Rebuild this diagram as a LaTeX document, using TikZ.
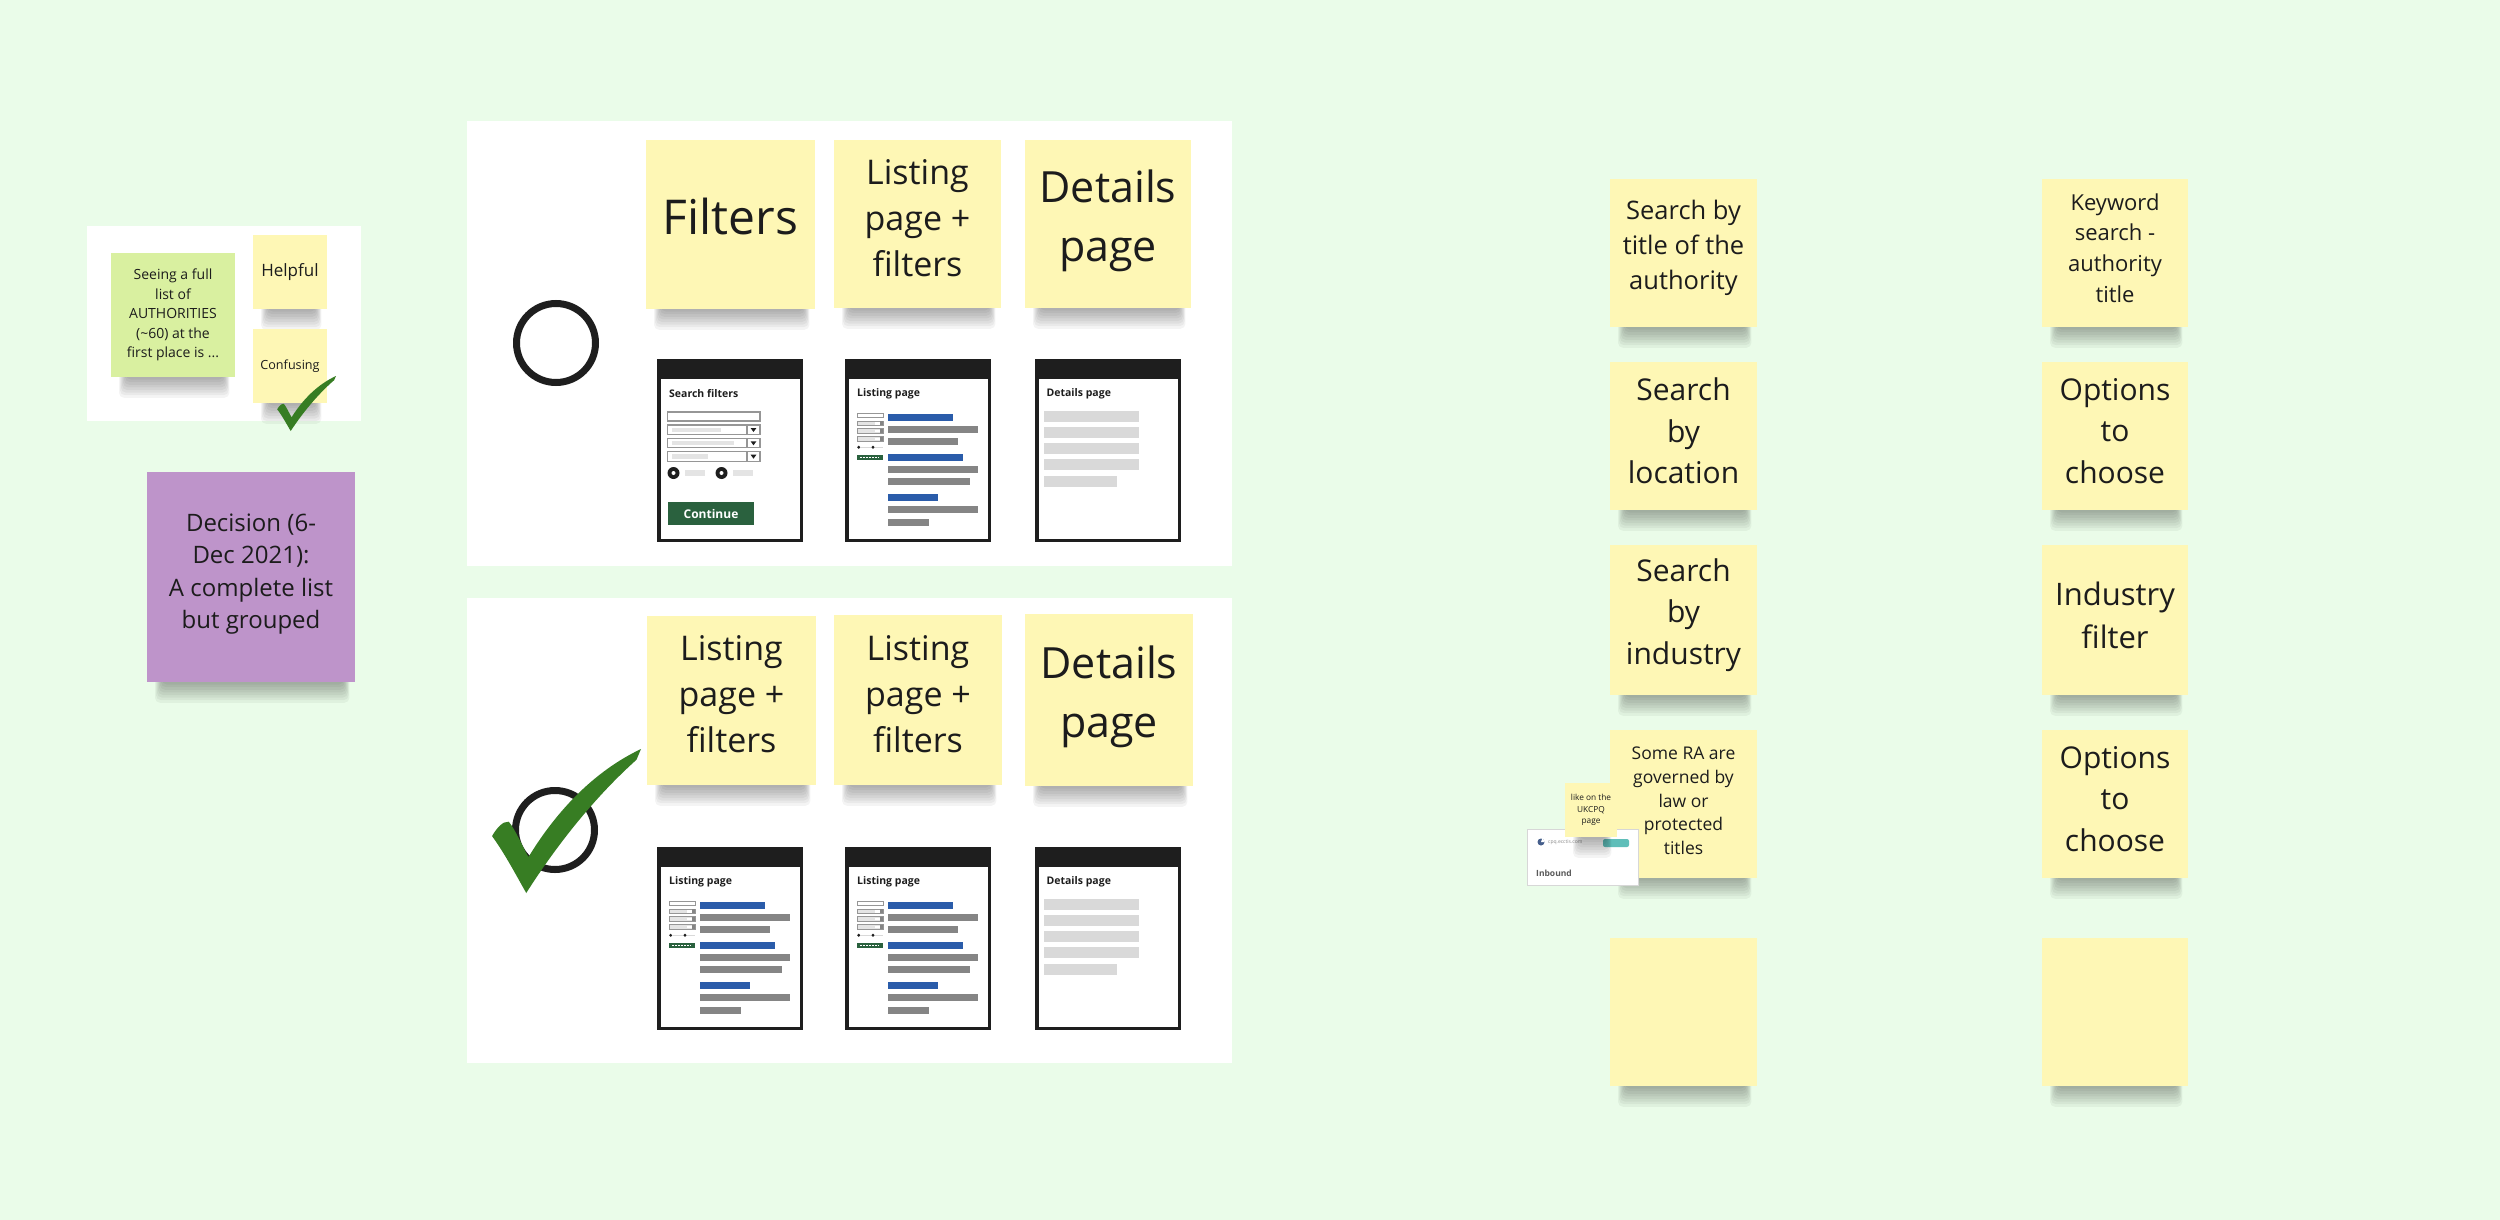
\documentclass[tikz,border=0pt]{standalone}
\usepackage{fontspec}
\setmainfont{Open Sans}

\definecolor{bg}{RGB}{234,252,233}
\definecolor{stickyyellow}{RGB}{254,247,181}
\definecolor{stickygreen}{RGB}{217,240,160}
\definecolor{stickypurple}{RGB}{190,148,202}
\definecolor{ink}{RGB}{28,28,28}
\definecolor{wfdark}{RGB}{30,30,30}
\definecolor{wfblue}{RGB}{42,92,170}
\definecolor{wfgray}{RGB}{133,133,133}
\definecolor{wflight}{RGB}{217,217,217}
\definecolor{wffill}{RGB}{228,228,228}
\definecolor{wfgreen}{RGB}{42,97,62}
\definecolor{wfedge}{RGB}{150,150,150}
\definecolor{tickgreen}{RGB}{55,125,35}
\definecolor{cardedge}{RGB}{215,215,215}
\definecolor{badge}{RGB}{95,190,185}
\definecolor{globe}{RGB}{70,95,140}

% sticky note: name, x0, y0, x1, y1, box style, text style, text
\newcommand{\sticky}[8]{%
  \foreach \k in {1,...,8}{
    \fill[black, opacity=0.045, rounded corners=5pt]
      ({#2+16-\k},{#5-6}) rectangle ({#4-12+\k*0.8},{#5+\k*2.6});
  }
  \node[stickybox, #6, minimum width={#4-#2}, minimum height={#5-#3}]
    (#1) at ({(#2+#4)/2},{(#3+#5)/2}) {};
  \node[stickytext, #7] (#1-text) at (#1.center) {#8};
}

% phone-like wireframe frame: name, x, y (top left)
\newcommand{\wfframe}[3]{%
  \node[wfbox] (#1) at ({#2+73},{#3+91.5}) {};
  \fill[wfdark] ({#2},{#3}) rectangle ({#2+146},{#3+20});
}

\newcommand{\wfsearch}[3]{%
  \wfframe{#1}{#2}{#3}%
  \begin{scope}[shift={(#2,#3)}]
    \node[wftitle] (#1-t) at (12,35) {Search filters};
    \draw[wffield] (10.5,53) rectangle (103,62);
    \foreach \ya/\len in {66/64, 79.3/77, 92.7/51}{
      \draw[wffield] (10.5,\ya) rectangle (103,\ya+9.5);
      \fill[wffill] (15,\ya+2.5) rectangle (\len,\ya+7);
      \draw[wfedge, line width=1.2pt] (90,\ya) -- (90,\ya+9.5);
      \fill[wfdark] (93.6,\ya+3) -- (99.4,\ya+3) -- (96.5,\ya+7) -- cycle;
    }
    \foreach \xr in {16.5,64.5}{
      \fill[wfdark] (\xr,114) circle[radius=6];
      \fill[white] (\xr,114) circle[radius=2];
      \fill[wffill] (\xr+11.5,111) rectangle (\xr+31,117);
    }
    \node[wfbutton] (#1-b) at (54,154.5) {Continue};
  \end{scope}}

\newcommand{\wflisting}[3]{%
  \wfframe{#1}{#2}{#3}%
  \begin{scope}[shift={(#2,#3)}]
    \node[wftitle] (#1-t) at (12,35) {Listing page};
    \draw[wfedge, line width=0.9pt, fill=white] (12.3,54.2) rectangle (38,58.4);
    \foreach \yc in {64.3,72,80}{
      \draw[wfedge, line width=0.9pt, fill=wffill] (12.3,\yc-2.1) rectangle (38,\yc+2.1);
      \fill[white] (30,\yc-1.4) rectangle (35,\yc+1.4);
      \fill[wfgray] (35,\yc-2.1) rectangle (38,\yc+2.1);
    }
    \draw[wflight, line width=1.5pt] (15.5,88.3) -- (25.5,88.3) (30,88.3) -- (38,88.3);
    \fill[wfdark] (13.7,88.3) circle[radius=1.6] (28,88.3) circle[radius=1.6];
    \fill[wfgreen] (12.3,95.5) rectangle (38,100.5);
    \draw[white, line width=0.8pt, dash pattern=on 2pt off 1pt] (15,98) -- (34,98);
    \foreach \ya/\xe/\c in {54.7/107.6/wfblue, 67/133/wfgray, 79/113/wfgray,
                           95/117.6/wfblue, 107/133/wfgray, 119/125/wfgray,
                           135/92.7/wfblue, 147/133/wfgray, 159.7/84/wfgray}{
      \fill[\c] (42.6,\ya) rectangle (\xe,\ya+7.3);
    }
  \end{scope}}

\newcommand{\wfdetails}[3]{%
  \wfframe{#1}{#2}{#3}%
  \begin{scope}[shift={(#2,#3)}]
    \node[wftitle] (#1-t) at (11.4,35) {Details page};
    \foreach \ya/\xe in {52/103.7, 68.3/103.7, 84.3/103.7, 100.3/103.7, 117.3/82.3}{
      \fill[wflight] (9,\ya) rectangle (\xe,\ya+10.5);
    }
  \end{scope}}

% heavy check mark inside a w x h box whose top left is (x,y)
\newcommand{\tickmark}[4]{%
  \begin{scope}[shift={(#1,#2)}, xscale=#3, yscale=#4]
    \fill[tickgreen] (0.02,0.605)
      .. controls (0.05,0.55) and (0.09,0.5) .. (0.13,0.505)
      .. controls (0.18,0.57) and (0.22,0.68) .. (0.26,0.75)
      .. controls (0.45,0.42) and (0.7,0.15) .. (1.0,0.0)
      -- (0.97,0.075)
      .. controls (0.7,0.33) and (0.45,0.66) .. (0.245,1.0)
      .. controls (0.17,0.86) and (0.1,0.72) .. cycle;
  \end{scope}}

\begin{document}
\begin{tikzpicture}[x=1pt, y=-1pt,
  fs/.style 2 args={font={\fontsize{#1}{#2}\selectfont}},
  stickybox/.style={fill=stickyyellow, inner sep=0pt},
  stickytext/.style={inner sep=0pt, align=center, text=ink},
  lift/.style={yshift=#1},
  panel/.style={fill=white},
  wfbox/.style={draw=wfdark, line width=3.5pt, fill=white, inner sep=0pt,
                minimum width=142.5, minimum height=179.5},
  wftitle/.style={anchor=west, inner sep=0pt, text=wfdark,
                  font={\bfseries\fontsize{10.5}{12}\selectfont}},
  wffield/.style={draw=wfedge, line width=1.3pt, fill=white},
  wfbutton/.style={fill=wfgreen, text=white, inner sep=0pt,
                   minimum width=86.5, minimum height=23,
                   font={\bfseries\fontsize{12}{14}\selectfont}},
  ring/.style={circle, draw=wfdark, line width=7pt, inner sep=0pt, minimum size=79},
]
\useasboundingbox (0,0) rectangle (2500,1220);
\fill[bg] (0,0) rectangle (2500,1220);

% ---------- left board: question and votes ----------
\node[panel, minimum width=274, minimum height=195, inner sep=0pt] (askpanel) at (224,323.5) {};
\sticky{question}{111}{253}{235}{377}{fill=stickygreen}{fs={14}{19.5}}
  {Seeing a full\\list of\\AUTHORITIES\\(\textasciitilde60) at the\\first place is ...}
\sticky{helpful}{253}{235}{327}{309}{}{fs={17}{22}}{Helpful}
\sticky{confusing}{253}{329}{327}{403}{}{fs={12.6}{16}}{Confusing}
\tickmark{276}{376}{60}{55}

\sticky{decision}{147}{472}{355}{682}{fill=stickypurple}{fs={24}{32.5}, lift=3pt}
  {Decision (6-\\Dec 2021):\\A complete list\\but grouped}

% ---------- option 1 ----------
\node[panel, minimum width=765, minimum height=445, inner sep=0pt] (optA) at (849.5,343.5) {};
\sticky{a1}{646}{140}{815}{309}{}{fs={48}{66}, lift=8pt}{Filters}
\sticky{a2}{834}{140}{1001}{308}{}{fs={34}{46}, lift=6pt}{Listing\\page +\\filters}
\sticky{a3}{1025}{140}{1191}{308}{}{fs={43}{59}, lift=3pt}{Details\\page}
\node[ring] (ringA) at (556,343) {};
\wfsearch{wfa1}{657}{359}
\wflisting{wfa2}{845}{359}
\wfdetails{wfa3}{1035}{359}

% ---------- option 2 (chosen) ----------
\node[panel, minimum width=765, minimum height=465, inner sep=0pt] (optB) at (849.5,830.5) {};
\sticky{b1}{647}{616}{816}{785}{}{fs={34}{46}, lift=6pt}{Listing\\page +\\filters}
\sticky{b2}{834}{615}{1002}{785}{}{fs={34}{46}, lift=6pt}{Listing\\page +\\filters}
\sticky{b3}{1025}{614}{1193}{786}{}{fs={43}{59}, lift=3pt}{Details\\page}
\node[ring] (ringB) at (555,830) {};
\tickmark{489}{749}{152}{144}
\wflisting{wfb1}{657}{847}
\wflisting{wfb2}{845}{847}
\wfdetails{wfb3}{1035}{847}

% ---------- search needs ----------
\sticky{n1}{1610}{179}{1757}{327}{}{fs={25.5}{35}, lift=5pt}{Search by\\title of the\\authority}
\sticky{n2}{1610}{362}{1757}{510}{}{fs={30}{41.5}, lift=5pt}{Search\\by\\location}
\sticky{n3}{1610}{545}{1757}{695}{}{fs={30}{41.5}, lift=5pt}{Search\\by\\industry}
\sticky{n4}{1610}{730}{1757}{878}{}{fs={17.5}{23.7}, lift=3pt}{Some RA are\\governed by\\law or\\protected\\titles}
\sticky{n5}{1610}{938}{1757}{1086}{}{}{}

% reference card with its note
\node[draw=cardedge, line width=1pt, fill=white, inner sep=0pt,
      minimum width=111, minimum height=56] (card) at (1582.5,857) {};
\fill[globe] (1541,842) circle[radius=3.5];
\fill[white] (1541,842) -- (1544.5,842) arc[start angle=0, end angle=-70, radius=3.5] -- cycle;
\node[anchor=west, inner sep=0pt, text=black!45, fs={5}{6}] (cardurl) at (1548,842) {cpq.ecctis.com};
\node[fill=badge, rounded corners=2pt, inner sep=0pt, minimum width=26, minimum height=8] (cardbadge) at (1616,843) {};
\node[anchor=west, inner sep=0pt, text=black!65, font={\bfseries\fontsize{8.5}{10}\selectfont}] (cardtitle) at (1536,873) {Inbound};
\sticky{likenote}{1565}{783}{1617}{837}{}{fs={8.3}{11.7}}{like on the\\UKCPQ\\page}

% ---------- matching solutions ----------
\sticky{m1}{2042}{179}{2188}{327}{}{fs={22}{30.8}, lift=5pt}{Keyword\\search -\\authority\\title}
\sticky{m2}{2042}{362}{2188}{510}{}{fs={30}{41.5}, lift=5pt}{Options\\to\\choose}
\sticky{m3}{2042}{545}{2188}{695}{}{fs={31}{43}, lift=5pt}{Industry\\filter}
\sticky{m4}{2042}{730}{2188}{878}{}{fs={30}{41.5}, lift=5pt}{Options\\to\\choose}
\sticky{m5}{2042}{938}{2188}{1086}{}{}{}

\end{tikzpicture}
\end{document}
